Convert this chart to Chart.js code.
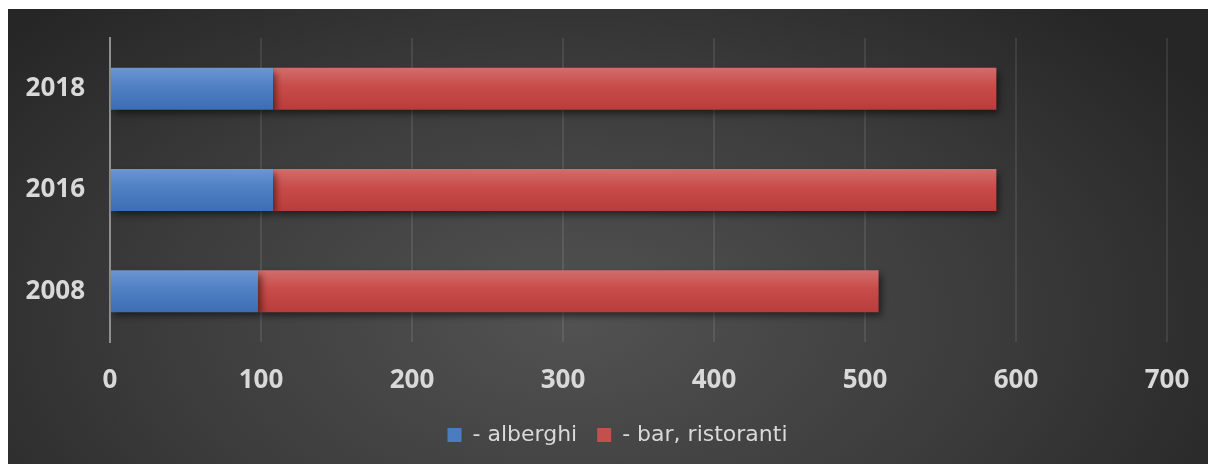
<!DOCTYPE html>
<html>
<head>
<meta charset="utf-8">
<script src="https://cdn.jsdelivr.net/npm/chart.js@4.4.1/dist/chart.umd.min.js"></script>
<style>
  html, body { margin: 0; padding: 0; background: #fff; }
  #wrap {
    position: absolute; left: 8px; top: 9px; width: 1200px; height: 455px;
    background: radial-gradient(ellipse 62% 95% at 47% 68%, #525252 0%, #3c3c3c 55%, #262626 100%);
  }
</style>
</head>
<body>
<div id="wrap"><canvas id="myChart" width="1200" height="455"></canvas></div>
<script>
// anni (dall'alto verso il basso come nel grafico originale)
const years = ['2018', '2016', '2008'];
const alberghi = [108, 108, 98];
const barRistoranti = [479, 479, 411];
const xTicks = [0, 100, 200, 300, 400, 500, 600, 700];

document.addEventListener('DOMContentLoaded', function () {
    const ctx = document.getElementById('myChart').getContext('2d');

    // gradiente verticale per ogni barra
    function barGradient(top, middle, bottom) {
        return function (c) {
            const chart = c.chart;
            const y = chart.scales.y;
            if (!y || c.dataIndex === undefined) return bottom;
            const mid = y.getPixelForValue(c.dataIndex);
            const g = chart.ctx.createLinearGradient(0, mid - 21, 0, mid + 21);
            g.addColorStop(0, top);
            g.addColorStop(0.45, middle);
            g.addColorStop(1, bottom);
            return g;
        };
    }

    const shadow = {
        id: 'shadow',
        beforeDatasetsDraw(chart) {
            const c = chart.ctx;
            c.save();
            c.shadowColor = 'rgba(0,0,0,0.55)';
            c.shadowBlur = 7;
            c.shadowOffsetX = 3;
            c.shadowOffsetY = 4;
        },
        afterDatasetsDraw(chart) {
            chart.ctx.restore();
        }
    };

    // la legenda originale è un po' spostata a destra
    const legendShift = {
        id: 'legendShift',
        afterLayout(chart) {
            chart.legend.left += 30;
            chart.legend.right += 30;
        }
    };

    const data = {
        labels: years,
        datasets: [{
            label: '- alberghi',
            data: alberghi,
            backgroundColor: barGradient('#6c95d2', '#4f80c4', '#3d6eb4'),
            legendColor: '#4a7cc0'
        }, {
            label: '- bar, ristoranti',
            data: barRistoranti,
            backgroundColor: barGradient('#d06e6c', '#c84b49', '#b73d3b'),
            legendColor: '#c4504e'
        }]
    };

    const options = {
        indexAxis: 'y',
        responsive: false,
        animation: false,
        layout: { padding: { left: 0, right: 41, top: 29, bottom: 8 } },
        datasets: { bar: { categoryPercentage: 1, barPercentage: 0.415 } },
        scales: {
            x: {
                stacked: true,
                min: 0,
                max: 700,
                afterBuildTicks(scale) { scale.ticks = xTicks.map(v => ({ value: v })); },
                afterFit(scale) {
                    scale.height = 62;
                    scale.paddingLeft = 0;
                    scale.paddingRight = 0;
                },
                grid: { color: 'rgba(255,255,255,0.09)', lineWidth: 2, drawTicks: false },
                border: { display: false },
                ticks: {
                    color: '#d9d9d9',
                    padding: 23,
                    font: { family: 'Open Sans', size: 26, weight: 'bold' }
                }
            },
            y: {
                stacked: true,
                afterFit(scale) {
                    scale.width = 102;
                    scale.paddingTop = 0;
                    scale.paddingBottom = 0;
                },
                grid: { display: false, drawTicks: false },
                border: { color: '#8f8f8f', width: 2 },
                ticks: {
                    color: '#d9d9d9',
                    padding: 25,
                    font: { family: 'Open Sans', size: 26, weight: 'bold' }
                }
            }
        },
        plugins: {
            tooltip: { enabled: false },
            legend: {
                position: 'bottom',
                labels: {
                    color: '#d9d9d9',
                    boxWidth: 14,
                    boxHeight: 14,
                    padding: 20,
                    font: { family: 'DejaVu Sans', size: 22, weight: 'normal' },
                    generateLabels(chart) {
                        return chart.data.datasets.map((ds, i) => ({
                            text: ds.label,
                            fillStyle: ds.legendColor,
                            strokeStyle: ds.legendColor,
                            lineWidth: 0,
                            fontColor: '#d9d9d9',
                            datasetIndex: i
                        }));
                    }
                }
            }
        }
    };

    new Chart(ctx, { type: 'bar', data: data, options: options, plugins: [shadow, legendShift] });
});
</script>
</body>
</html>
